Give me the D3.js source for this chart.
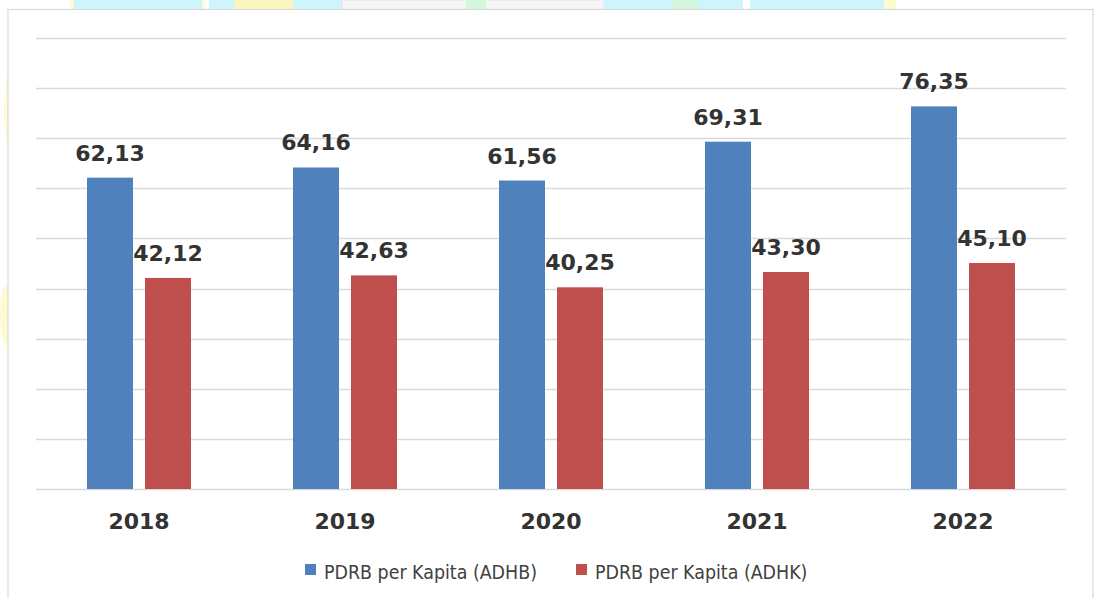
<!DOCTYPE html>
<html>
<head>
<meta charset="utf-8">
<script src="https://cdn.jsdelivr.net/npm/d3@7"></script>
<style>
  body { margin: 0; background: #fff; }
  svg { display: block; }
</style>
</head>
<body>
<svg id="chart"></svg>
<script>
// data
var years = ['2018', '2019', '2020', '2021', '2022'];
var adhb = [62.13, 64.16, 61.56, 69.31, 76.35];
var adhk = [42.12, 42.63, 40.25, 43.30, 45.10];
var seriesNames = ['PDRB per Kapita (ADHB)', 'PDRB per Kapita (ADHK)'];
var seriesColors = ['#4f81bd', '#c0504d'];
var gridTicks = [0, 10, 20, 30, 40, 50, 60, 70, 80, 90];

var svgWidth = 1094, svgHeight = 598;

var svg = d3.select('#chart')
    .attr('width', svgWidth)
    .attr('height', svgHeight);

// faint watermark peeking out above the chart box
var wm = svg.append('g');
wm.append('rect').attr('x', 70).attr('y', 0).attr('width', 135).attr('height', 10).attr('fill', '#fdfbd0');
wm.append('rect').attr('x', 74).attr('y', 0).attr('width', 128).attr('height', 10).attr('fill', '#cdf6fc');
wm.append('rect').attr('x', 209).attr('y', 0).attr('width', 134).attr('height', 10).attr('fill', '#cdf6fc');
wm.append('rect').attr('x', 234).attr('y', 0).attr('width', 59).attr('height', 10).attr('fill', '#fbf6c0');
wm.append('rect').attr('x', 342).attr('y', 0).attr('width', 262).attr('height', 10).attr('fill', '#f6f6f6').attr('stroke', '#e4e4e4');
wm.append('rect').attr('x', 466).attr('y', 0).attr('width', 20).attr('height', 10).attr('fill', '#d4f6dc');
wm.append('rect').attr('x', 604).attr('y', 0).attr('width', 139).attr('height', 10).attr('fill', '#cdf6fc');
wm.append('rect').attr('x', 673).attr('y', 0).attr('width', 25).attr('height', 10).attr('fill', '#d4f6dc');
wm.append('rect').attr('x', 750).attr('y', 0).attr('width', 134).attr('height', 10).attr('fill', '#cdf6fc');
wm.append('rect').attr('x', 884).attr('y', 0).attr('width', 12).attr('height', 10).attr('fill', '#fdfbd0');
wm.append('ellipse').attr('cx', 14).attr('cy', 110).attr('rx', 10).attr('ry', 45).attr('fill', '#fefbd2');
wm.append('ellipse').attr('cx', 6).attr('cy', 315).attr('rx', 6).attr('ry', 30).attr('fill', '#fefbd2');

// chart area box
svg.append('rect')
    .attr('x', 8).attr('y', 9.5)
    .attr('width', 1085).attr('height', 600)
    .attr('fill', '#fff')
    .attr('stroke', '#d9d9d9')
    .attr('stroke-width', 1.2);

var plotLeft = 36, plotRight = 1066, plotTop = 38, plotBottom = 489;

var x0 = d3.scaleBand()
    .domain(years)
    .range([plotLeft, plotRight])
    .padding(0);

var groupWidth = 104;
var x1 = d3.scaleBand()
    .domain([0, 1])
    .range([-groupWidth / 2, groupWidth / 2])
    .paddingInner(12 / 58)
    .paddingOuter(0);

var yScale = d3.scaleLinear()
    .domain([0, 90])
    .range([plotBottom, plotTop]);

// gridlines
svg.append('g')
    .selectAll('line')
    .data(gridTicks)
    .enter()
    .append('line')
    .attr('x1', plotLeft)
    .attr('x2', plotRight)
    .attr('y1', function(d) { return Math.round(yScale(d)) + 0.5; })
    .attr('y2', function(d) { return Math.round(yScale(d)) + 0.5; })
    .attr('stroke', '#d9d9d9')
    .attr('stroke-width', 1.5);

var rows = [];
years.forEach(function(y, i) {
    rows.push({ year: y, s: 0, v: adhb[i] });
    rows.push({ year: y, s: 1, v: adhk[i] });
});

var fmt = function(v) { return v.toFixed(2).replace('.', ','); };

var bars = svg.append('g');
bars.selectAll('rect')
    .data(rows)
    .enter()
    .append('rect')
    .attr('x', function(d) { return x0(d.year) + x0.bandwidth() / 2 + x1(d.s); })
    .attr('width', x1.bandwidth())
    .attr('y', function(d) { return yScale(d.v); })
    .attr('height', function(d) { return plotBottom - yScale(d.v); })
    .attr('fill', function(d) { return seriesColors[d.s]; });

// value labels
svg.append('g')
    .selectAll('text')
    .data(rows)
    .enter()
    .append('text')
    .attr('x', function(d) { return x0(d.year) + x0.bandwidth() / 2 + x1(d.s) + x1.bandwidth() / 2; })
    .attr('y', function(d) { return yScale(d.v) - 17; })
    .attr('text-anchor', 'middle')
    .attr('font-family', 'DejaVu Sans, Verdana, sans-serif')
    .attr('font-weight', 'bold')
    .attr('font-size', '22px')
    .attr('fill', '#333')
    .text(function(d) { return fmt(d.v); });

// category axis labels
svg.append('g')
    .selectAll('text')
    .data(years)
    .enter()
    .append('text')
    .attr('x', function(d) { return x0(d) + x0.bandwidth() / 2; })
    .attr('y', 529)
    .attr('text-anchor', 'middle')
    .attr('font-family', 'DejaVu Sans, Verdana, sans-serif')
    .attr('font-weight', 'bold')
    .attr('font-size', '22px')
    .attr('fill', '#333')
    .text(function(d) { return d; });

// legend
var legendX = [305, 576];
var legend = svg.append('g')
    .selectAll('g')
    .data(seriesNames)
    .enter()
    .append('g')
    .attr('transform', function(d, i) { return 'translate(' + legendX[i] + ',564)'; });

legend.append('rect')
    .attr('width', 11)
    .attr('height', 11)
    .attr('fill', function(d, i) { return seriesColors[i]; });

legend.append('text')
    .attr('x', 19)
    .attr('y', 15)
    .attr('font-family', 'DejaVu Sans Condensed, DejaVu Sans, sans-serif')
    .attr('font-stretch', 'condensed')
    .attr('font-size', '19.4px')
    .attr('fill', '#404040')
    .text(function(d) { return d; });
</script>
</body>
</html>
